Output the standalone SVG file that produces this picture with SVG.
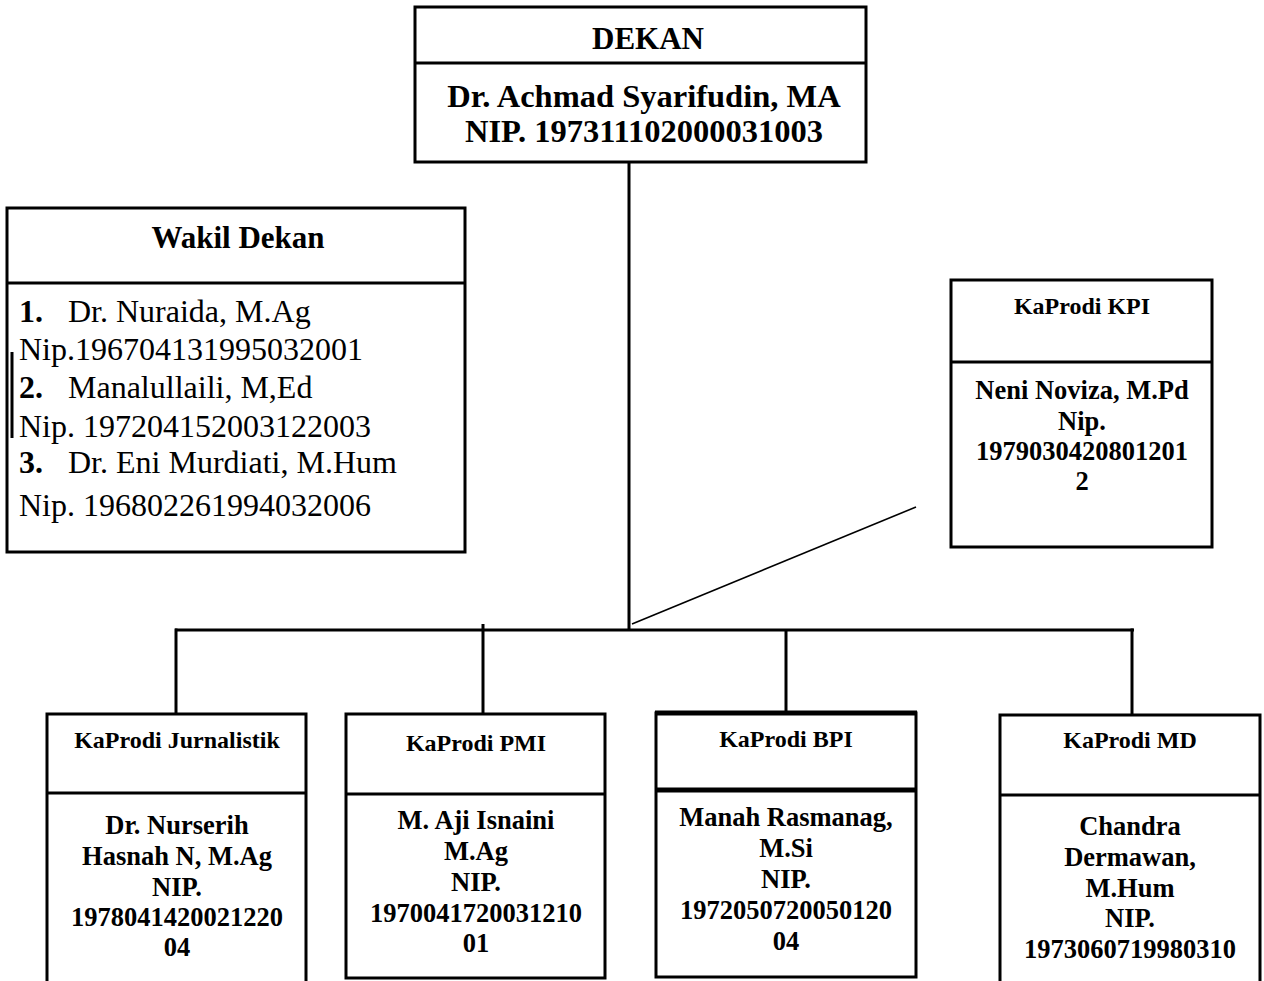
<svg xmlns="http://www.w3.org/2000/svg" width="1264" height="981" viewBox="0 0 1264 981">
<style>
.box{fill:#fff;stroke:#000;stroke-width:3}
.ln{stroke:#000;stroke-width:3;fill:none}
.thin{stroke:#000;stroke-width:1.6;fill:none}
text{font-family:"Liberation Serif","Times New Roman",serif;fill:#000}
.b{font-weight:bold}
.c{text-anchor:middle}
.t31{font-size:31px}
.t32{font-size:32.5px}
.t24{font-size:24px}
.t26{font-size:26.5px}
.r31{font-size:32px}
</style>
<rect width="1264" height="981" fill="#fff"/>
<g id="connectors">
<line class="ln" x1="629" y1="162" x2="629" y2="631"/>
<line class="ln" x1="175" y1="630" x2="1134" y2="630"/>
<line class="ln" x1="176" y1="628.5" x2="176" y2="714"/>
<line class="ln" x1="483" y1="624" x2="483" y2="714"/>
<line class="ln" x1="786" y1="630" x2="786" y2="713"/>
<line class="ln" x1="1132" y1="628.5" x2="1132" y2="716"/>
<line class="thin" x1="632" y1="624" x2="916" y2="507"/>
</g>
<g id="dekan">
<rect class="box" x="415" y="7" width="451" height="155"/>
<line class="ln" x1="415" y1="63" x2="866" y2="63"/>
<text class="b c t31" x="648" y="49">DEKAN</text>
<text class="b c t32" x="644" y="107">Dr. Achmad Syarifudin, MA</text>
<text class="b c t32" x="644" y="142">NIP. 197311102000031003</text>
</g>
<g id="wakil-dekan">
<rect class="box" x="7" y="208" width="458" height="344"/>
<line class="ln" x1="7" y1="283" x2="465" y2="283"/>
<line class="ln" x1="12" y1="352" x2="12" y2="438"/>
<text class="b c t31" x="238" y="248">Wakil Dekan</text>
<text class="r31" x="19" y="322"><tspan class="b">1.</tspan><tspan x="68">Dr. Nuraida, M.Ag</tspan></text>
<text class="r31" x="19" y="360">Nip.196704131995032001</text>
<text class="r31" x="19" y="398"><tspan class="b">2.</tspan><tspan x="68">Manalullaili, M,Ed</tspan></text>
<text class="r31" x="19" y="437">Nip. 197204152003122003</text>
<text class="r31" x="19" y="473"><tspan class="b">3.</tspan><tspan x="68">Dr. Eni Murdiati, M.Hum</tspan></text>
<text class="r31" x="19" y="516">Nip. 196802261994032006</text>
</g>
<g id="kaprodi-kpi">
<rect class="box" x="951" y="280" width="261" height="267"/>
<line class="ln" x1="951" y1="362" x2="1212" y2="362"/>
<text class="b c t24" x="1082" y="314">KaProdi KPI</text>
<text class="b c t26" x="1082" y="399">Neni Noviza, M.Pd</text>
<text class="b c t26" x="1082" y="430">Nip.</text>
<text class="b c t26" x="1082" y="460">1979030420801201</text>
<text class="b c t26" x="1082" y="490">2</text>
</g>
<g id="kaprodi-jurnalistik">
<path class="ln" d="M47 990 V714 H306 V990"/>
<line class="ln" x1="47" y1="793" x2="306" y2="793"/>
<text class="b c t24" x="177" y="748">KaProdi Jurnalistik</text>
<text class="b c t26" x="177" y="834">Dr. Nurserih</text>
<text class="b c t26" x="177" y="865">Hasnah N, M.Ag</text>
<text class="b c t26" x="177" y="896">NIP.</text>
<text class="b c t26" x="177" y="926">1978041420021220</text>
<text class="b c t26" x="177" y="956">04</text>
</g>
<g id="kaprodi-pmi">
<rect class="box" x="346" y="714" width="259" height="264"/>
<line class="ln" x1="346" y1="794" x2="605" y2="794"/>
<text class="b c t24" x="476" y="751">KaProdi PMI</text>
<text class="b c t26" x="476" y="829">M. Aji Isnaini</text>
<text class="b c t26" x="476" y="860">M.Ag</text>
<text class="b c t26" x="476" y="891">NIP.</text>
<text class="b c t26" x="476" y="922">1970041720031210</text>
<text class="b c t26" x="476" y="952">01</text>
</g>
<g id="kaprodi-bpi">
<rect class="box" x="656" y="713" width="260" height="264"/>
<line stroke="#000" stroke-width="5" x1="655" y1="713" x2="917" y2="713"/>
<line stroke="#000" stroke-width="5" x1="656" y1="790" x2="916" y2="790"/>
<text class="b c t24" x="786" y="747">KaProdi BPI</text>
<text class="b c t26" x="786" y="826">Manah Rasmanag,</text>
<text class="b c t26" x="786" y="857">M.Si</text>
<text class="b c t26" x="786" y="888">NIP.</text>
<text class="b c t26" x="786" y="919">1972050720050120</text>
<text class="b c t26" x="786" y="950">04</text>
</g>
<g id="kaprodi-md">
<path class="ln" d="M1000 990 V715 H1260 V990"/>
<line class="ln" x1="1000" y1="795" x2="1260" y2="795"/>
<text class="b c t24" x="1130" y="748">KaProdi MD</text>
<text class="b c t26" x="1130" y="835">Chandra</text>
<text class="b c t26" x="1130" y="866">Dermawan,</text>
<text class="b c t26" x="1130" y="897">M.Hum</text>
<text class="b c t26" x="1130" y="927">NIP.</text>
<text class="b c t26" x="1130" y="958">1973060719980310</text>
</g>
</svg>
